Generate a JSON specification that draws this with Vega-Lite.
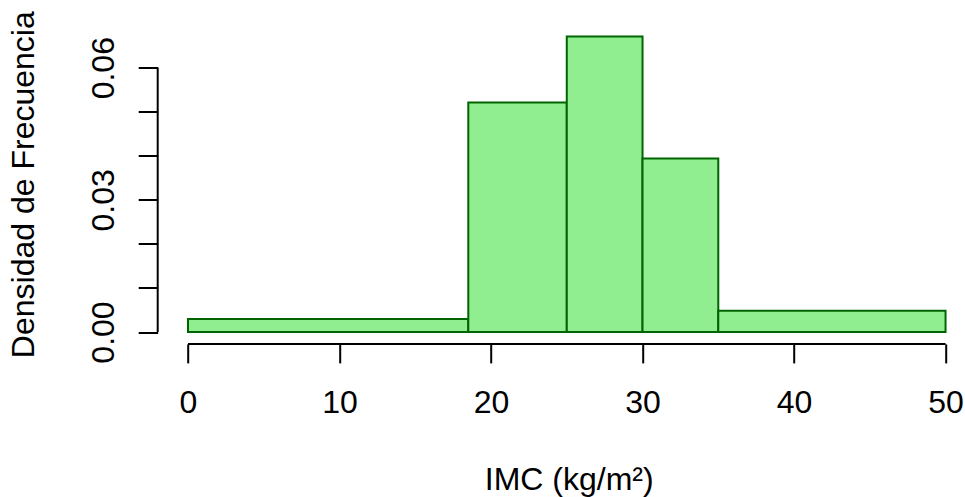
{
  "$schema": "https://vega.github.io/schema/vega-lite/v6.json",
  "width": 803,
  "height": 319.4,
  "autosize": {"type": "none"},
  "padding": {"left": 157.7, "top": 24.5, "right": 4.3, "bottom": 153.1},
  "background": "white",
  "config": {"view": {"stroke": null}, "font": "Liberation Sans"},
  "data": {
    "values": [
      {"desde": 0, "hasta": 18.5, "densidad": 0.00295},
      {"desde": 18.5, "hasta": 25, "densidad": 0.0521},
      {"desde": 25, "hasta": 30, "densidad": 0.0671},
      {"desde": 30, "hasta": 35, "densidad": 0.0394},
      {"desde": 35, "hasta": 50, "densidad": 0.0048}
    ]
  },
  "layer": [
    {
      "mark": {"type": "rect", "fill": "#90EE90", "stroke": "#006400", "strokeWidth": 2},
      "encoding": {
        "x": {
          "field": "desde",
          "type": "quantitative",
          "scale": {"domain": [-2, 51], "nice": false, "zero": false},
          "axis": {
            "title": "IMC (kg/m²)",
            "values": [0, 10, 20, 30, 40, 50],
            "domain": false,
            "grid": false,
            "ticks": true,
            "tickSize": 19,
            "tickWidth": 2,
            "tickColor": "black",
            "labelFont": "Liberation Sans",
            "labelFontSize": 32,
            "labelColor": "black",
            "labelBaseline": "alphabetic",
            "labelPadding": 50,
            "labelFlush": false,
            "labelOverlap": false,
            "titleFont": "Liberation Sans",
            "titleFontSize": 32,
            "titleFontWeight": "normal",
            "titleColor": "black",
            "titleX": 411,
            "titleY": 145.8,
            "titleAlign": "center",
            "titleBaseline": "alphabetic"
          }
        },
        "x2": {"field": "hasta"},
        "y": {
          "field": "densidad",
          "type": "quantitative",
          "scale": {"domain": [-0.0027, 0.0698], "nice": false, "zero": false},
          "axis": {
            "title": "Densidad de Frecuencia",
            "values": [0, 0.01, 0.02, 0.03, 0.04, 0.05, 0.06],
            "labelExpr": "datum.value < 1e-9 || abs(datum.value - 0.03) < 1e-9 || abs(datum.value - 0.06) < 1e-9 ? format(datum.value, '.2f') : ''",
            "domain": false,
            "grid": false,
            "tickSize": 19.5,
            "tickWidth": 2,
            "tickColor": "black",
            "labelFont": "Liberation Sans",
            "labelFontSize": 32,
            "labelColor": "black",
            "labelAngle": 270,
            "labelAlign": "center",
            "labelBaseline": "alphabetic",
            "labelPadding": 25,
            "labelFlush": false,
            "labelOverlap": false,
            "titleFont": "Liberation Sans",
            "titleFontSize": 32,
            "titleFontWeight": "normal",
            "titleColor": "black",
            "titleAngle": 270,
            "titleX": -124.4,
            "titleY": 159.7,
            "titleAlign": "center",
            "titleBaseline": "alphabetic"
          }
        },
        "y2": {"datum": 0}
      }
    },
    {
      "data": {"values": [{}]},
      "mark": {"type": "rule", "color": "black", "strokeWidth": 2},
      "encoding": {
        "x": {"datum": -2, "type": "quantitative"},
        "y": {"datum": 0, "type": "quantitative"},
        "y2": {"datum": 0.06}
      }
    },
    {
      "data": {"values": [{}]},
      "mark": {"type": "rule", "color": "black", "strokeWidth": 2},
      "encoding": {
        "y": {"datum": -0.0027, "type": "quantitative"},
        "x": {"datum": 0, "type": "quantitative"},
        "x2": {"datum": 50}
      }
    }
  ]
}
